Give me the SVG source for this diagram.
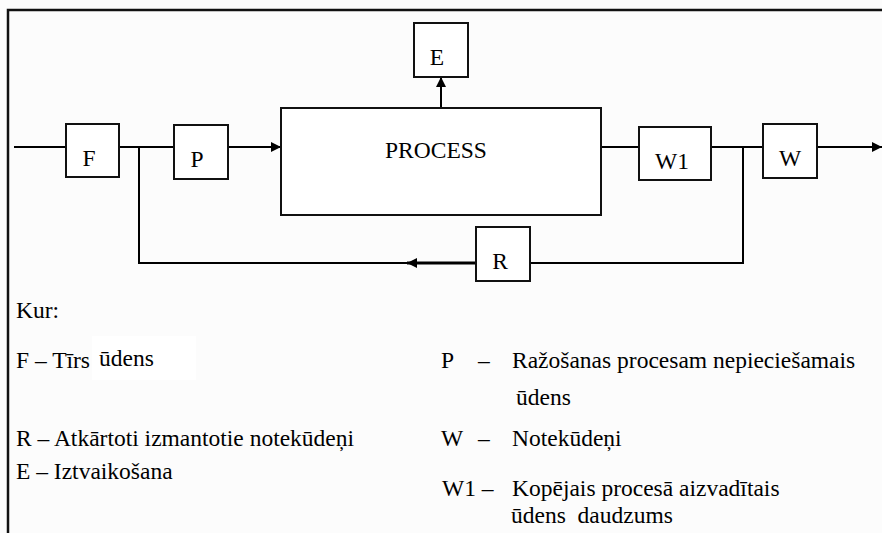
<svg xmlns="http://www.w3.org/2000/svg" width="882" height="533" viewBox="0 0 882 533">
<defs>
<marker id="arr" viewBox="0 0 10 10" refX="10" refY="5" markerWidth="10" markerHeight="10" markerUnits="userSpaceOnUse" orient="auto">
<path d="M0,0 L10,5 L0,10 Z" fill="#000"/>
</marker>
</defs>
<style>
.box{fill:#fff;stroke:#111;stroke-width:2}
.ln{fill:none;stroke:#000;stroke-width:2}
</style>
<rect width="882" height="533" fill="#fcfcfc"/>
<rect x="92" y="336" width="104" height="44" fill="#fff"/>
<path d="M8,533 V10 H882" fill="none" stroke="#111" stroke-width="2.5"/>
<g id="connectors">
<line class="ln" x1="14" y1="147" x2="66" y2="147"/>
<line class="ln" x1="119" y1="147" x2="174" y2="147"/>
<line class="ln" x1="228" y1="147" x2="281" y2="147" marker-end="url(#arr)"/>
<line class="ln" x1="441" y1="108" x2="441" y2="77" marker-end="url(#arr)"/>
<line class="ln" x1="601" y1="147" x2="639" y2="147"/>
<line class="ln" x1="711" y1="147" x2="763" y2="147"/>
<line class="ln" x1="817" y1="147" x2="882" y2="147" marker-end="url(#arr)"/>
<path class="ln" d="M743,147 V263 H530"/>
<line x1="476" y1="263" x2="407" y2="263" stroke="#000" stroke-width="3" marker-end="url(#arr)"/>
<path class="ln" d="M410,263 H139 V147"/>
</g>
<g font-family="'Liberation Serif', 'Times New Roman', Times, serif" fill="#000">
<g text-anchor="middle" font-size="23.5">
<g id="node-F"><rect class="box" x="66" y="124" width="53" height="53"/><text x="89" y="166">F</text></g>
<g id="node-P"><rect class="box" x="174" y="125" width="54" height="54"/><text x="197" y="167">P</text></g>
<g id="node-PROCESS"><rect class="box" x="281" y="108" width="320" height="107"/><text x="436" y="158">PROCESS</text></g>
<g id="node-E"><rect class="box" x="414" y="23" width="54" height="54"/><text x="437" y="65">E</text></g>
<g id="node-W1"><rect class="box" x="639" y="127" width="72" height="53"/><text x="672" y="169">W1</text></g>
<g id="node-W"><rect class="box" x="763" y="124" width="54" height="54"/><text x="790" y="166">W</text></g>
<g id="node-R"><rect class="box" x="476" y="227" width="54" height="54"/><text x="500" y="269">R</text></g>
</g>
<g id="legend" font-size="23.5">
<text x="16" y="318">Kur:</text>
<text x="16" y="368">F – Tīrs</text>
<text x="99" y="366">ūdens</text>
<text x="16" y="446">R – Atkārtoti izmantotie notekūdeņi</text>
<text x="16" y="479">E – Iztvaikošana</text>
<text x="441" y="368">P</text>
<text x="478" y="368">–</text>
<text x="512" y="368">Ražošanas procesam nepieciešamais</text>
<text x="516" y="405">ūdens</text>
<text x="441" y="446">W</text>
<text x="478" y="446">–</text>
<text x="512" y="446">Notekūdeņi</text>
<text x="442" y="496">W1 –</text>
<text x="512" y="496">Kopējais procesā aizvadītais</text>
<text x="511" y="523" xml:space="preserve">ūdens  daudzums</text>
</g>
</g>
</svg>
